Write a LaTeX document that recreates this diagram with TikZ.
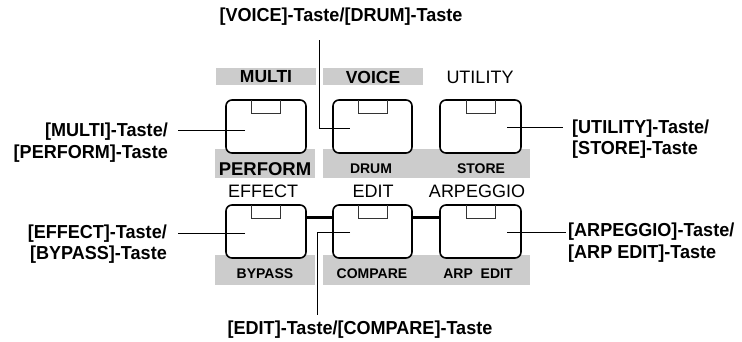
\documentclass[tikz,border=0pt]{standalone}
\usepackage{fontspec}
\setmainfont{Liberation Sans}
\newfontfamily\condfont[FakeStretch=0.96]{Liberation Sans}
\begin{document}
\begin{tikzpicture}[x=1pt,y=-1pt,
  band/.style={fill=black!20,draw=none},
  keybox/.style={draw=black,fill=white,line width=1.6pt,rounded corners=6pt},
  notch/.style={draw=black!80,line width=0.8pt},
  lead/.style={draw=black,line width=1pt},
  link/.style={draw=black,line width=3pt},
  callout/.style={font=\condfont\bfseries\fontsize{18.8}{21.5}\selectfont,inner sep=0pt},
  biglbl/.style={font=\bfseries\fontsize{17.5}{20}\selectfont,inner sep=0pt},
  reglbl/.style={font=\fontsize{18}{20}\selectfont,inner sep=0pt},
  smalllbl/.style={font=\bfseries\fontsize{14}{16}\selectfont,inner sep=0pt}]
\useasboundingbox (0,0) rectangle (742,341);
% gray bands
\fill[band] (216,68) rectangle (316,85);
\fill[band] (323,68) rectangle (423,85);
\fill[band] (215,149) rectangle (315,178);
\fill[band] (323,149) rectangle (530,178);
\fill[band] (215,255) rectangle (315,285);
\fill[band] (323,255) rectangle (530,285);
% links between lower keys
\draw[link] (306,217) -- (333,217);
\draw[link] (412,217) -- (440,217);
% keys
\foreach \n/\xa/\xb/\ya/\yb in {k1/226/306/100/153, k2/333/412/100/153, k3/440/521/100/153,
                                 k4/226/306/205/258, k5/333/412/205/258, k6/440/521/205/258}{
  \draw[keybox] (\xa,\ya) rectangle (\xb,\yb);
  \coordinate (\n) at ({(\xa+\xb)/2},\ya);
  \draw[notch] ([xshift=-14.5pt]\n) -- ++(0,13) -- ++(29,0) -- ++(0,-13);
}
% key labels
\node[biglbl] (lmulti) at (266,77) {MULTI};
\node[biglbl] (lvoice) at (373,77) {VOICE};
\node[reglbl] (lutil) at (480,77) {UTILITY};
\node[biglbl,font=\bfseries\fontsize{18.5}{20}\selectfont] (lperf) at (265,169) {PERFORM};
\node[smalllbl] (ldrum) at (371,169) {DRUM};
\node[smalllbl] (lstore) at (481,169) {STORE};
\node[reglbl] (leffect) at (263,191.5) {EFFECT};
\node[reglbl] (ledit) at (373,191.5) {EDIT};
\node[reglbl] (larp) at (477,191.5) {ARPEGGIO};
\node[smalllbl] (lbyp) at (265,274) {BYPASS};
\node[smalllbl] (lcomp) at (372,274) {COMPARE};
\node[smalllbl] (larpe) at (478,274) {ARP\ \ EDIT};
% callouts
\node[callout] (tvoice) at (341,17) {[VOICE]-Taste/[DRUM]-Taste};
\node[callout] (tedit) at (360,330) {[EDIT]-Taste/[COMPARE]-Taste};
\node[callout,align=right,anchor=east] (tmulti) at (168,142.5) {[MULTI]-Taste/\\{[PERFORM]-Taste}};
\node[callout,align=right,anchor=east] (teffect) at (167,244) {[EFFECT]-Taste/\\{[BYPASS]-Taste}};
\node[callout,align=left,anchor=west] (tutil) at (572,139) {[UTILITY]-Taste/\\{[STORE]-Taste}};
\node[callout,align=left,anchor=west] (tarp) at (568,242.5) {[ARPEGGIO]-Taste/\\{[ARP EDIT]-Taste}};
% leader end points
\coordinate (qvoice) at (319,40);
\coordinate (pvoice) at (350,128);
\coordinate (pmulti) at (245,130);
\coordinate (qmulti) at (178,130);
\coordinate (putil) at (507,127);
\coordinate (qutil) at (563,127);
\coordinate (peffect) at (245,233);
\coordinate (qeffect) at (178,233);
\coordinate (pedit) at (350,232);
\coordinate (qedit) at (317,315);
\coordinate (parp) at (507,232);
\coordinate (qarp) at (566,232);
% leaders
\draw[lead] (qvoice) |- (pvoice);
\draw[lead] (pmulti) -- (qmulti);
\draw[lead] (putil) -- (qutil);
\draw[lead] (peffect) -- (qeffect);
\draw[lead] (parp) -- (qarp);
\draw[lead] (pedit) -| (qedit);
\end{tikzpicture}
\end{document}
